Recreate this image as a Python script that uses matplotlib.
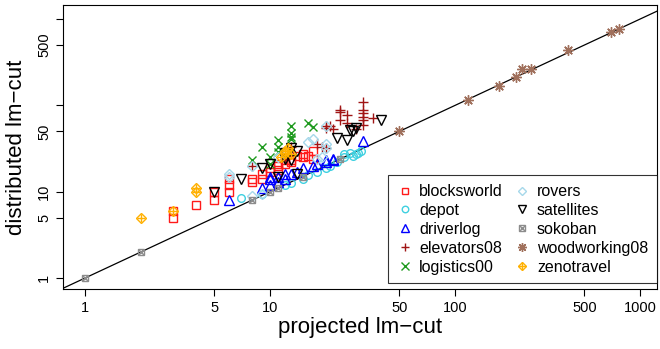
import matplotlib
matplotlib.use('Agg')
import matplotlib.pyplot as plt
from matplotlib.lines import Line2D

plt.rcParams['font.family'] = ['Liberation Sans', 'DejaVu Sans']

# data (projected vs distributed lm-cut)
blocksworld_x = [3, 3, 4, 5, 5, 6, 6, 6, 8, 8, 9, 9, 10, 10, 11, 11, 11, 12, 12, 13, 13, 14, 15, 15, 16, 17, 17]
blocksworld_y = [5, 6, 7, 8, 10, 10, 12, 14, 14, 13, 14, 16, 17, 19, 18, 20, 21, 21, 23, 22, 23, 26, 27, 25, 26, 24, 30]
depot_x = [7, 9, 12, 13, 15, 16, 18, 20, 21, 23, 25, 25, 27, 28, 29, 30, 31]
depot_y = [8.5, 9.5, 12, 12.5, 14, 15.5, 17, 19, 20, 22, 25, 27, 28, 26, 27, 28, 30]
driverlog_x = [6, 9, 10, 10, 10, 11, 11, 12, 13, 14, 15, 17, 18, 20, 20, 22, 22, 32, 12]
driverlog_y = [8, 11, 12, 14, 15, 13, 15, 14, 16, 17, 19, 20, 21, 22, 23, 23, 24, 39, 16]
elevators_x = [8, 12, 13, 18, 19, 20, 20, 20, 22, 21, 24, 24, 24, 26, 26, 29, 32, 32, 32, 32, 32, 32, 36]
elevators_y = [20, 24, 33, 36, 33, 32, 57, 55, 54, 58, 88, 68, 85, 77, 62, 54, 110, 88, 81, 74, 68, 59, 72]
logistics_x = [8, 9, 10, 10, 11, 11, 11, 13, 13, 13, 13, 16, 17]
logistics_y = [23, 33, 25, 21, 40, 33, 29, 57, 48, 43, 41, 62, 56]
rovers_x = [6, 6, 8, 9, 8, 11, 17, 19, 20, 20, 16, 18, 20]
rovers_y = [15, 16, 9, 9.5, 20, 25, 41, 25, 32, 57, 38, 24, 36]
satellites_x = [5, 7, 9, 10, 11, 13, 13, 12, 14, 14, 23, 26, 27, 28, 29, 40, 12]
satellites_y = [10, 14, 19, 21, 15, 23, 32, 28, 16, 30, 42, 40, 52, 50, 55, 68, 24]
sokoban_x = [1, 2, 8, 10, 11, 15, 24]
sokoban_y = [1, 2, 8, 10, 11, 15, 24]
woodworking_x = [50, 117, 173, 215, 230, 256, 406, 695, 766]
woodworking_y = [50, 115, 169, 212, 262, 262, 438, 715, 768]
zenotravel_x = [2, 3, 4, 4, 11.5, 12, 12.5, 13, 12]
zenotravel_y = [5, 6, 10, 11, 25, 28, 32, 27, 30]

domains = ['blocksworld', 'depot', 'driverlog', 'elevators08', 'logistics00',
           'rovers', 'satellites', 'sokoban', 'woodworking08', 'zenotravel']
xs = [blocksworld_x, depot_x, driverlog_x, elevators_x, logistics_x,
      rovers_x, satellites_x, sokoban_x, woodworking_x, zenotravel_x]
ys = [blocksworld_y, depot_y, driverlog_y, elevators_y, logistics_y,
      rovers_y, satellites_y, sokoban_y, woodworking_y, zenotravel_y]
colors = ['#ff1a1a', '#3fd0e0', '#0000ff', '#a01515', '#1e9a1e',
          '#a6d8ea', '#000000', '#8c8c8c', '#a0705c', '#ffb000']
# R pch 0..9 as (marker, size) layers
markers = [[('s', 5.3)], [('o', 5.5)], [('^', 6.5)], [('+', 7.5)], [('x', 6)],
           [('D', 5)], [('v', 6.5)], [('s', 5), ('x', 4.5)], [((8, 2, 0), 7.5)],
           [('D', 5), ('+', 6)]]

fig = plt.figure(figsize=(6.6, 3.49), dpi=100)
ax = fig.add_axes([63 / 660, 1 - 289 / 349, 594 / 660, 284 / 349])

handles = []
for name, x, y, c, mk in zip(domains, xs, ys, colors, markers):
    hs = []
    for m, s in mk:
        ax.plot(x, y, linestyle='none', marker=m, ms=s, mfc='none', mec=c, mew=1.0)
        hs.append(Line2D([], [], linestyle='none', marker=m, ms=s * 0.85, mfc='none', mec=c, mew=1.0))
    handles.append(tuple(hs) if len(hs) > 1 else hs[0])

ax.set_xscale('log')
ax.set_yscale('log')
x0, x1 = 0.76, 1236
y0, y1 = 0.746, 1457
ax.set_xlim(x0, x1)
ax.set_ylim(y0, y1)
# diagonal y = x
ax.plot([0.5, 2000], [0.5, 2000], color='black', lw=0.9, zorder=1)

ax.set_xticks([1, 5, 10, 50, 100, 500, 1000])
ax.set_xticklabels(['1', '5', '10', '50', '100', '500', '1000'])
ax.set_yticks([1, 5, 10, 50, 100, 500, 1000])
ax.set_yticklabels(['1', '5', '10', '50', '', '500', ''], rotation=90, va='center')
ax.minorticks_off()
ax.tick_params(labelsize=10.5, length=5, width=0.8, pad=3.5, direction='out')
for sp in ax.spines.values():
    sp.set_linewidth(0.8)

ax.text(0.5, -0.137, 'projected lm\u2212cut', transform=ax.transAxes,
        ha='center', va='center', fontsize=16)
ax.text(-0.079, 0.5, 'distributed lm\u2212cut', transform=ax.transAxes,
        ha='center', va='center', rotation=90, fontsize=16)

leg = ax.legend(handles, domains, ncol=2, loc='lower right',
                bbox_to_anchor=(1.0, 0.02), fontsize=11.5, frameon=True,
                fancybox=False, edgecolor='black', borderpad=0.55,
                labelspacing=0.24, handlelength=0.93, handletextpad=0.45,
                columnspacing=0.75, borderaxespad=0)
leg.get_frame().set_linewidth(0.8)

plt.savefig('out.png', dpi=100)
